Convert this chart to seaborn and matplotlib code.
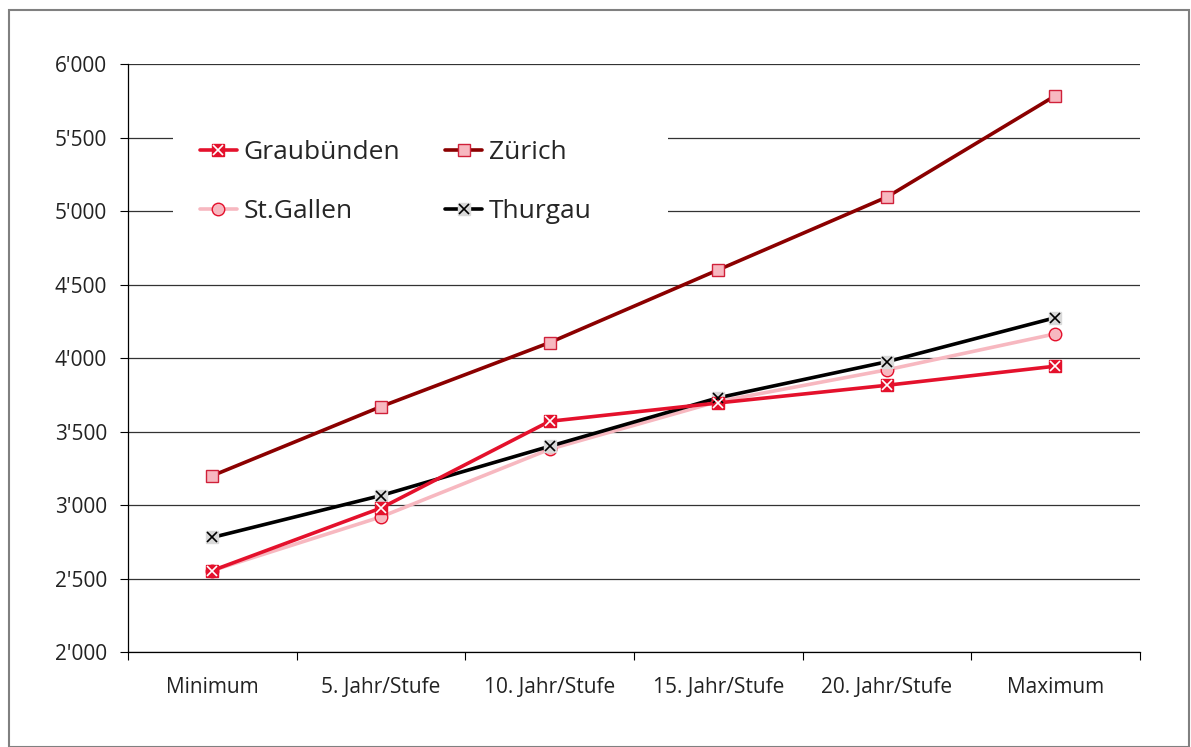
import numpy as np
import pandas as pd
import matplotlib
matplotlib.use('Agg')
import matplotlib.pyplot as plt
import seaborn as sns
from matplotlib.lines import Line2D
from matplotlib.legend_handler import HandlerTuple
from matplotlib.patches import Rectangle
from matplotlib.ticker import FuncFormatter, FixedLocator

categories = ['Minimum', '5. Jahr/Stufe', '10. Jahr/Stufe', '15. Jahr/Stufe',
              '20. Jahr/Stufe', 'Maximum']
graubuenden = [2555, 2980, 3570, 3695, 3815, 3945]
zuerich = [3200, 3670, 4105, 4600, 5095, 5785]
stgallen = [2555, 2920, 3380, 3705, 3920, 4165]
thurgau = [2780, 3065, 3400, 3730, 3975, 4275]

df = pd.DataFrame({
    'pos': list(range(len(categories))) * 4,
    'value': graubuenden + zuerich + stgallen + thurgau,
    'series': (['Graubünden'] * 6 + ['Zürich'] * 6 + ['St.Gallen'] * 6
               + ['Thurgau'] * 6),
})

sns.set_style('white')
plt.rcParams['font.family'] = ['Open Sans', 'DejaVu Sans']

fig = plt.figure(figsize=(11.91, 7.47), dpi=100)
ax = fig.add_axes([0.1075, 0.127, 0.8495, 0.7873])

# line colour, base marker, face, edge, overlay x colour
styles = {
    'Graubünden': dict(color='#E4112C', marker='s', mfc='#E4112C', mec='#E4112C', over='white'),
    'Zürich': dict(color='#8B0000', marker='s', mfc='#F7B8C0', mec='#D0213A', over=None),
    'St.Gallen': dict(color='#F7B8C0', marker='o', mfc='#F7B8C0', mec='#E4112C', over=None),
    'Thurgau': dict(color='black', marker='s', mfc='#D9D9D9', mec='#D9D9D9', over='black'),
}

handles = {}
for name in ['Zürich', 'St.Gallen', 'Thurgau', 'Graubünden']:
    st = styles[name]
    sub = df[df['series'] == name]
    sns.lineplot(data=sub, x='pos', y='value', ax=ax, color=st['color'],
                 linewidth=2.6, marker=st['marker'], markersize=9,
                 markerfacecolor=st['mfc'], markeredgecolor=st['mec'],
                 markeredgewidth=1.0, zorder=3)
    base = Line2D([], [], color=st['color'], linewidth=2.6, marker=st['marker'],
                  markersize=9, markerfacecolor=st['mfc'],
                  markeredgecolor=st['mec'], markeredgewidth=1.0)
    if st['over']:
        ax.plot(sub['pos'], sub['value'], linestyle='none', marker='x',
                markersize=6.5, markeredgewidth=1.2, color=st['over'], zorder=4)
        over = Line2D([], [], linestyle='none', marker='x', markersize=6.5,
                      markeredgewidth=1.2, color=st['over'])
        handles[name] = (base, over)
    else:
        handles[name] = (base,)

ax.set_xlim(-0.5, 5.5)
ax.set_ylim(2000, 6000)
ax.set_yticks(np.arange(2000, 6001, 500))
ax.yaxis.set_major_formatter(FuncFormatter(lambda v, p: f"{int(v):,}".replace(',', "'")))
ax.set_xticks(range(len(categories)))
ax.set_xticklabels(categories)
ax.xaxis.set_minor_locator(FixedLocator(np.arange(-0.5, 5.6, 1)))
ax.tick_params(axis='x', which='major', length=0, pad=18, labelsize=15, colors='#222222')
ax.tick_params(axis='x', which='minor', length=6, width=0.8, direction='out', color='black', bottom=True)
ax.tick_params(axis='y', which='major', length=6, width=0.8, direction='out', color='black',
               left=True, labelsize=15, labelcolor='#222222', pad=9)
ax.set_xlabel('')
ax.set_ylabel('')
ax.grid(axis='y', color='#333333', linewidth=0.9)
ax.grid(axis='x', visible=False)
for s in ['top', 'right']:
    ax.spines[s].set_visible(False)
for s in ['left', 'bottom']:
    ax.spines[s].set_color('black')
    ax.spines[s].set_linewidth(0.9)

# white legend area hiding the gridlines (x 173-668 px, y 113-240 px)
ax.add_patch(Rectangle(((173 - 128) / 1012, (652 - 240) / 588), 495 / 1012, 127 / 588,
                       transform=ax.transAxes, facecolor='white', edgecolor='none',
                       zorder=1))

order = ['Graubünden', 'St.Gallen', 'Zürich', 'Thurgau']
leg = ax.legend([handles[n] for n in order], order, ncol=2,
                handler_map={tuple: HandlerTuple(ndivide=1)},
                loc='upper left', bbox_to_anchor=((200 - 128) / 1012, (652 - 140) / 588),
                frameon=False, fontsize=19, handlelength=1.4, handletextpad=0.25,
                columnspacing=1.7, labelspacing=1.3, borderpad=0.0,
                borderaxespad=0.0)
leg.set_zorder(5)

fig.patches.append(Rectangle((9 / 1191, 0), 1180 / 1191, 737 / 747,
                             transform=fig.transFigure, fill=False,
                             edgecolor='#808080', linewidth=1.5))

fig.savefig('out.png', dpi=100)
